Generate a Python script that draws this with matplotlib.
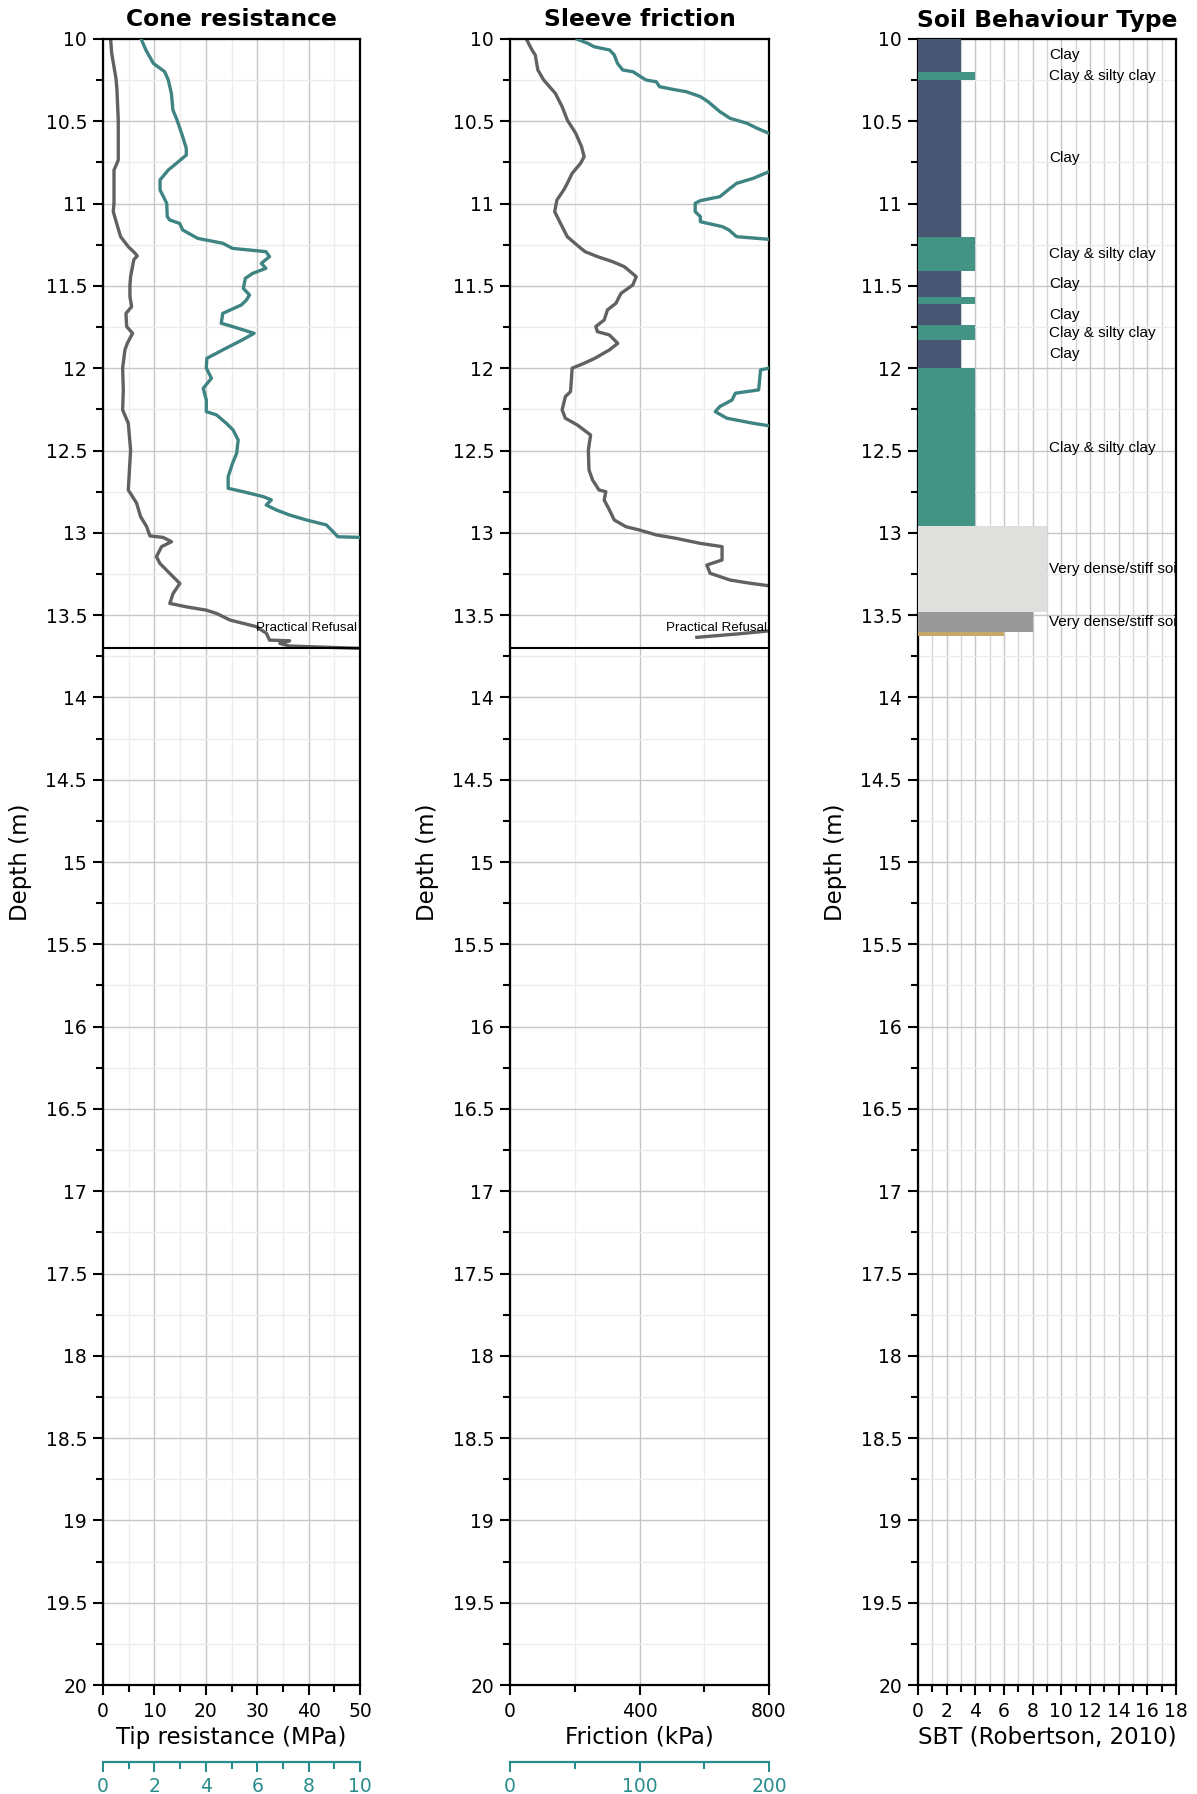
import matplotlib
matplotlib.use('Agg')
import matplotlib.pyplot as plt
from matplotlib.ticker import MultipleLocator, FuncFormatter

# ---------------- data ----------------
# Cone resistance qc (MPa)
qc_depth = [10.006, 10.087, 10.239, 10.30, 10.492, 10.735, 10.76, 10.796, 10.994, 11.049,
            11.12, 11.201, 11.262, 11.30, 11.318, 11.34, 11.444, 11.495, 11.565, 11.626,
            11.667, 11.747, 11.788, 11.849, 11.889, 12.0, 12.132, 12.253, 12.335, 12.497,
            12.74, 12.82, 12.902, 12.962, 13.019, 13.028, 13.054, 13.084, 13.145, 13.186,
            13.247, 13.308, 13.368, 13.429, 13.45, 13.47, 13.49, 13.53, 13.57, 13.611,
            13.652, 13.656, 13.672, 13.688, 13.702]
qc_value = [1.50, 1.69, 2.52, 2.70, 2.97, 2.97, 2.65, 2.14, 2.14, 2.00,
            2.65, 3.43, 4.92, 6.20, 6.67, 6.00, 5.37, 5.24, 5.24, 5.57,
            4.47, 4.60, 5.76, 4.72, 4.27, 3.82, 3.95, 3.82, 4.92, 5.37,
            4.92, 6.54, 7.31, 8.48, 9.13, 11.7, 13.33, 11.4, 10.4, 11.07,
            13.0, 14.95, 13.65, 13.0, 16.25, 20.1, 22.1, 24.7, 29.8, 31.8,
            32.4, 36.3, 34.4, 36.3, 50.0]

# Teal curve on cone panel (secondary scale 0-10)
rf_depth = [10.006, 10.067, 10.148, 10.199, 10.249, 10.330, 10.431, 10.492, 10.593, 10.664,
            10.705, 10.755, 10.796, 10.856, 10.917, 10.998, 11.079, 11.100, 11.120, 11.160,
            11.211, 11.241, 11.272, 11.292, 11.322, 11.363, 11.393, 11.424, 11.454, 11.515,
            11.555, 11.586, 11.616, 11.667, 11.727, 11.747, 11.788, 11.828, 11.889, 11.940,
            12.0, 12.061, 12.122, 12.193, 12.264, 12.284, 12.335, 12.375, 12.436, 12.517,
            12.578, 12.659, 12.730, 12.750, 12.780, 12.80, 12.831, 12.861, 12.892, 12.922,
            12.952, 12.993, 13.024, 13.028, 13.2, 13.5, 13.7]
rf_value = [1.50, 1.67, 1.96, 2.40, 2.54, 2.66, 2.72, 2.88, 3.10, 3.24,
            3.24, 2.86, 2.54, 2.22, 2.22, 2.48, 2.50, 2.60, 2.98, 3.10,
            3.68, 4.66, 5.04, 6.34, 6.48, 6.16, 6.34, 5.82, 5.54, 5.46,
            5.70, 5.58, 5.38, 4.66, 4.60, 5.04, 5.88, 5.42, 4.66, 4.04,
            4.02, 4.22, 3.90, 4.02, 4.02, 4.42, 4.80, 5.06, 5.26, 5.20,
            5.04, 4.87, 4.87, 5.45, 6.23, 6.55, 6.35, 6.74, 7.26, 7.91,
            8.69, 8.95, 9.14, 10.0, 11.5, 13.0, 14.0]

# Sleeve friction fs (kPa)
fs_depth = [10.006, 10.067, 10.097, 10.188, 10.249, 10.330, 10.411, 10.492, 10.573, 10.654,
            10.715, 10.755, 10.816, 10.877, 10.917, 10.978, 11.049, 11.120, 11.201, 11.262,
            11.292, 11.322, 11.353, 11.383, 11.444, 11.495, 11.545, 11.606, 11.646, 11.707,
            11.747, 11.778, 11.798, 11.849, 11.889, 11.940, 11.970, 12.0, 12.142, 12.173,
            12.253, 12.304, 12.345, 12.406, 12.497, 12.618, 12.679, 12.740, 12.750, 12.801,
            12.861, 12.922, 12.963, 12.983, 13.013, 13.034, 13.064, 13.084, 13.165, 13.196,
            13.246, 13.287, 13.307, 13.323, 13.45, 13.58, 13.595, 13.615, 13.635]
fs_value = [52, 68, 78, 86, 104, 140, 161, 177, 203, 221,
            229, 218, 192, 177, 166, 145, 138, 156, 177, 213,
            232, 270, 317, 353, 390, 379, 343, 327, 301, 291,
            265, 270, 307, 333, 307, 262, 229, 192, 187, 171,
            161, 171, 208, 249, 242, 244, 255, 275, 296, 291,
            307, 322, 358, 400, 452, 514, 587, 655, 655, 608,
            618, 680, 743, 805, 900, 880, 805, 700, 577]

# Teal curve on friction panel (secondary scale 0-200)
u_depth = [10.002, 10.026, 10.047, 10.067, 10.097, 10.148, 10.188, 10.199, 10.229, 10.249,
           10.26, 10.29, 10.31, 10.32, 10.35, 10.381, 10.441, 10.482, 10.512, 10.543,
           10.573, 10.69, 10.806, 10.846, 10.877, 10.907, 10.958, 10.982, 10.998, 11.049,
           11.079, 11.110, 11.140, 11.160, 11.201, 11.217, 11.6, 12.0, 12.01, 12.051,
           12.132, 12.152, 12.193, 12.233, 12.264, 12.304, 12.335, 12.351, 12.8, 13.3, 13.7]
u_value = [52, 60, 65, 77, 80.5, 83, 87, 95, 101, 105,
           113, 115.5, 128.5, 136, 147, 153, 162, 170, 183, 191,
           200, 230, 200, 188, 175, 170, 162, 147, 143, 143,
           147, 147, 164, 169, 175, 200, 240, 200, 193.5, 193,
           192, 174, 171.5, 162, 158.5, 167.5, 188, 201, 240, 260, 270]

# Soil behaviour type layers
sbt_top = [10.0, 10.2, 10.25, 11.2, 11.41, 11.57, 11.61, 11.74, 11.83, 12.0, 12.96, 13.48, 13.60]
sbt_bottom = [10.2, 10.25, 11.2, 11.41, 11.57, 11.61, 11.74, 11.83, 12.0, 12.97, 13.48, 13.60, 13.63]
sbt_zone = [3, 4, 3, 4, 3, 4, 3, 4, 3, 4, 9, 8, 6]
sbt_label = ['Clay', 'Clay & silty clay', 'Clay', 'Clay & silty clay', 'Clay', '',
             'Clay', 'Clay & silty clay', 'Clay', 'Clay & silty clay',
             'Very dense/stiff soil', 'Very dense/stiff soil', '']
zone_colors = {3: '#485573', 4: '#449486', 9: '#dfdfdd', 8: '#999999', 6: '#c8a868'}

refusal_depth = 13.7

# ---------------- style ----------------
GRAY = '#616161'
TEAL = '#3e8482'
AXTEAL = '#2a8c8c'
MAJ_GRID = '#c6c6c6'
MIN_GRID = '#ececec'

W, H = 1197, 1794
fig = plt.figure(figsize=(W / 100, H / 100), dpi=100)


def axrect(l, r, t=39, b=1685):
    return [l / W, 1 - b / H, (r - l) / W, (b - t) / H]


ax1 = fig.add_axes(axrect(103, 360))
ax2 = fig.add_axes(axrect(510, 769))
ax3 = fig.add_axes(axrect(918, 1176))


def fmt_depth(v, p):
    return f'{v:g}'


def style(ax, title, xlabel):
    ax.set_ylim(20, 10)
    ax.yaxis.set_major_locator(MultipleLocator(0.5))
    ax.yaxis.set_minor_locator(MultipleLocator(0.25))
    ax.yaxis.set_major_formatter(FuncFormatter(fmt_depth))
    ax.tick_params(axis='both', which='major', length=7.5, width=1.5, labelsize=13.5, pad=4)
    ax.tick_params(axis='x', which='major', pad=5)
    ax.tick_params(axis='both', which='minor', length=5, width=1.5)
    ax.set_ylabel('Depth (m)', fontsize=16.5, labelpad=10)
    ax.set_xlabel(xlabel, fontsize=16.5, labelpad=3)
    ax.set_title(title, fontsize=16.8, fontweight='bold', pad=9)
    ax.grid(which='major', color=MAJ_GRID, lw=1.0)
    ax.grid(which='minor', color=MIN_GRID, lw=1.0)
    ax.set_axisbelow(True)
    for s in ax.spines.values():
        s.set_linewidth(1.6)


def secondary(ax, xmax, major, minor):
    t = ax.twiny()
    t.set_xlim(0, xmax)
    t.xaxis.set_ticks_position('bottom')
    t.xaxis.set_label_position('bottom')
    t.spines['bottom'].set_position(('outward', 55.5))
    for k in ('top', 'left', 'right'):
        t.spines[k].set_visible(False)
    t.spines['bottom'].set_color(AXTEAL)
    t.spines['bottom'].set_linewidth(1.6)
    t.xaxis.set_major_locator(MultipleLocator(major))
    t.xaxis.set_minor_locator(MultipleLocator(minor))
    t.tick_params(axis='x', which='major', length=7.5, width=1.5, labelsize=13.5,
                  colors=AXTEAL, pad=3)
    t.tick_params(axis='x', which='minor', length=5, width=1.5, colors=AXTEAL)
    t.set_ylim(20, 10)
    return t


LW = 2.4

# Panel 1: cone resistance
style(ax1, 'Cone resistance', 'Tip resistance (MPa)')
ax1.set_xlim(0, 50)
ax1.xaxis.set_major_locator(MultipleLocator(10))
ax1.xaxis.set_minor_locator(MultipleLocator(5))
ax1.plot(qc_value, qc_depth, color=GRAY, lw=LW, solid_joinstyle='round')
ax1.axhline(refusal_depth, color='black', lw=1.5, zorder=5)
ax1.text(49.4, 13.58, 'Practical Refusal', ha='right', va='center', fontsize=9.6,
         family='Liberation Sans', zorder=6)
t1 = secondary(ax1, 10, 2, 1)
t1.plot(rf_value, rf_depth, color=TEAL, lw=LW, solid_joinstyle='round')

# Panel 2: sleeve friction
style(ax2, 'Sleeve friction', 'Friction (kPa)')
ax2.set_xlim(0, 800)
ax2.xaxis.set_major_locator(MultipleLocator(400))
ax2.xaxis.set_minor_locator(MultipleLocator(200))
ax2.plot(fs_value, fs_depth, color=GRAY, lw=LW, solid_joinstyle='round')
ax2.axhline(refusal_depth, color='black', lw=1.5, zorder=5)
ax2.text(795, 13.58, 'Practical Refusal', ha='right', va='center', fontsize=9.6,
         family='Liberation Sans', zorder=6)
t2 = secondary(ax2, 200, 100, 50)
t2.plot(u_value, u_depth, color=TEAL, lw=LW, solid_joinstyle='round')

# Panel 3: SBT
style(ax3, 'Soil Behaviour Type', 'SBT (Robertson, 2010)')
ax3.set_xlim(0, 18)
ax3.xaxis.set_major_locator(MultipleLocator(2))
ax3.xaxis.set_minor_locator(MultipleLocator(1))
ax3.grid(which='minor', axis='x', color='#d6d6d6', lw=1.0)
for top, bot, z, lab in zip(sbt_top, sbt_bottom, sbt_zone, sbt_label):
    ax3.barh(top, z, height=bot - top, left=0, align='edge', color=zone_colors[z],
             zorder=3, linewidth=0)
    if lab:
        ax3.text(9.15, (top + bot) / 2, lab, ha='left', va='center', fontsize=11,
                 family='Liberation Sans', clip_on=True, zorder=4)

fig.savefig('out.png', dpi=100)
